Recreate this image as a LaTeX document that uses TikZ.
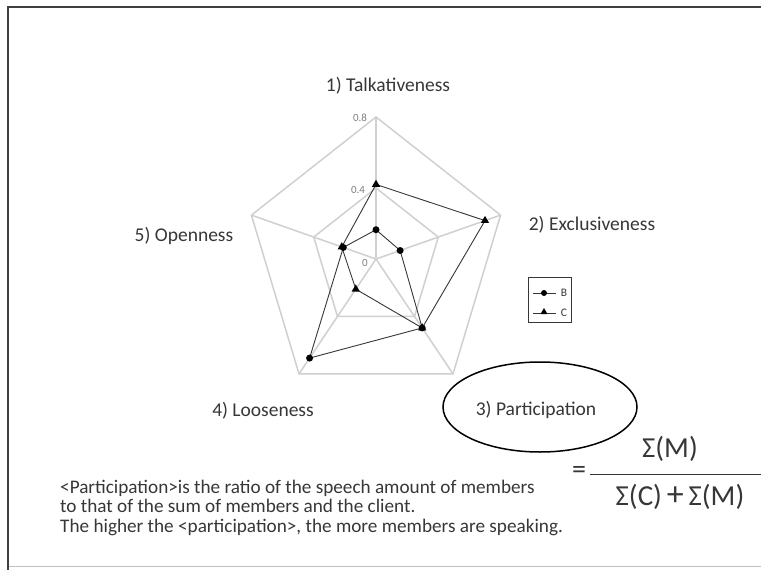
\documentclass[tikz,border=0pt]{standalone}
\usepackage{fontspec}
\setmainfont{Carlito}
\usetikzlibrary{shapes.geometric}
\definecolor{gridgray}{RGB}{208,208,208}
\definecolor{inkgray}{RGB}{55,55,55}
\tikzset{
  gridline/.style={draw=gridgray, line width=1.5pt},
  seriesline/.style={draw=inkgray, line width=0.9pt},
  dotmark/.style={circle, fill=black, inner sep=0pt, minimum size=7pt},
  trimark/.style={regular polygon, regular polygon sides=3, fill=black, inner sep=0pt, minimum size=9.5pt},
  axislabel/.style={text=inkgray, font=\fontsize{19.5}{22}\selectfont},
  ticklabel/.style={text=gray, font=\fontsize{11}{12}\selectfont, inner sep=0pt},
  bodytext/.style={text=inkgray, font=\fontsize{19.2}{22}\selectfont, anchor=base west, inner sep=0pt},
  fractext/.style={text=inkgray, font=\fontsize{29}{32}\selectfont, inner sep=0pt}
}
\begin{document}
\begin{tikzpicture}[x=1pt, y=-1pt]
\useasboundingbox (0,0) rectangle (761,570);
\fill[white] (0,0) rectangle (761,570);
% outer frame
\draw[draw=black!25, line width=1pt] (762,566) -- (8,566);
\draw[draw=black!75, line width=2.2pt] (8,571) -- (8,7) -- (762,7);

% radar chart
\begin{scope}[shift={(376,259)}, x=163.75pt, y=177.5pt]
  \coordinate (ctr) at (0,0);
  \foreach \k/\a in {0/90, 1/18, 2/-54, 3/-126, 4/162} {
    \coordinate (o\k) at (\a:0.8);
    \coordinate (m\k) at (\a:0.4);
  }
  \foreach \k in {0,...,4} \draw[gridline] (ctr) -- (o\k);
  \draw[gridline] (o0) -- (o1) -- (o2) -- (o3) -- (o4) -- cycle;
  \draw[gridline] (m0) -- (m1) -- (m2) -- (m3) -- (m4) -- cycle;

  % series B
  \coordinate (b0) at (90:0.165);
  \coordinate (b1) at (18:0.155);
  \coordinate (b2) at (-54:0.48);
  \coordinate (b3) at (-126:0.69);
  \coordinate (b4) at (162:0.21);
  % series C
  \coordinate (c0) at (90:0.42);
  \coordinate (c1) at (18:0.70);
  \coordinate (c2) at (-54:0.48);
  \coordinate (c3) at (-126:0.21);
  \coordinate (c4) at (162:0.22);
  \draw[seriesline] (b0) -- (b1) -- (b2) -- (b3) -- (b4) -- cycle;
  \draw[seriesline] (c0) -- (c1) -- (c2) -- (c3) -- (c4) -- cycle;
  \foreach \k in {0,...,4} \node[dotmark] (bm\k) at (b\k) {};
  \foreach \k in {0,...,4} \node[trimark] (cm\k) at (c\k) {};
\end{scope}

% scale values on the vertical axis
\node[ticklabel] (t8) at (360,118) {0.8};
\node[ticklabel] (t4) at (358,190) {0.4};
\node[ticklabel] (t0) at (365,263) {0};

% axis titles
\node[axislabel] (l1) at (388,86) {1) Talkativeness};
\node[axislabel] (l2) at (592,225) {2) Exclusiveness};
\node[axislabel] (l3) at (536,410) {3) Participation};
\node[axislabel] (l4) at (263,411) {4) Looseness};
\node[axislabel] (l5) at (184,236) {5) Openness};
\draw[line width=1.5pt] (540,407) ellipse [x radius=97, y radius=45];

% legend
\draw[draw=inkgray, line width=0.8pt] (528,277) rectangle (571,322);
\coordinate (lb1) at (533,293); \coordinate (lb2) at (556,293);
\coordinate (lc1) at (533,313); \coordinate (lc2) at (556,313);
\draw[seriesline] (lb1) -- (lb2);
\draw[seriesline] (lc1) -- (lc2);
\node[dotmark, minimum size=6pt] (legb) at (544,293) {};
\node[trimark, minimum size=8pt] (legc) at (544,312) {};
\node[text=inkgray, font=\fontsize{11.5}{12}\selectfont, inner sep=0pt] (legbt) at (564,293) {B};
\node[text=inkgray, font=\fontsize{11.5}{12}\selectfont, inner sep=0pt] (legct) at (564,313) {C};

% formula
\node[text=inkgray, font=\fontsize{28}{30}\selectfont, inner sep=0pt] (eq) at (579,472) {=};
\coordinate (fr1) at (590,474);
\coordinate (fr2) at (762,474);
\draw[draw=inkgray, line width=0.9pt] (fr1) -- (fr2);
\node[fractext] (num) at (670,449) {Σ(M)};
\node[fractext] (den) at (680,497) {Σ(C)\,{\fontsize{34}{34}\selectfont +}\,Σ(M)};

% explanation
\node[bodytext] (ex1) at (60,493) {<Participation>is the ratio of the speech amount of members};
\node[bodytext] (ex2) at (60,512.5) {to that of the sum of members and the client.};
\node[bodytext] (ex3) at (60,532) {The higher the <participation>, the more members are speaking.};
\end{tikzpicture}
\end{document}
